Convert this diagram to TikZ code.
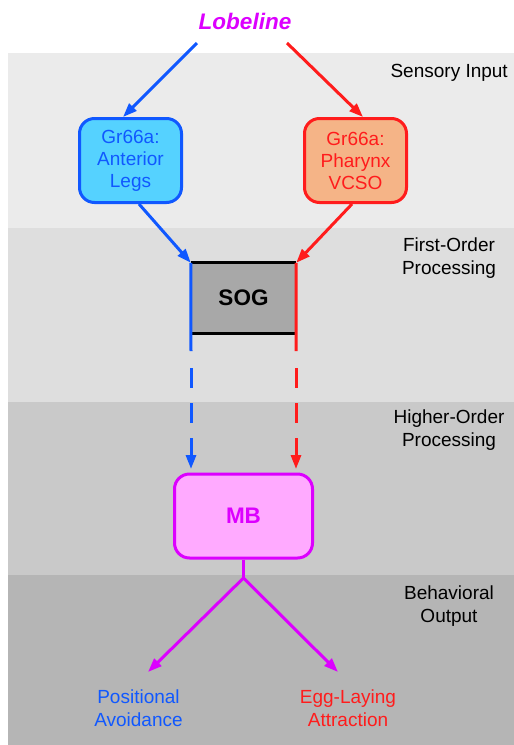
\documentclass[tikz,border=0pt]{standalone}
\usepackage{fontspec}
\setmainfont{Liberation Sans}
\usetikzlibrary{arrows.meta}
\definecolor{cblue}{RGB}{16,88,255}
\definecolor{cred}{RGB}{255,28,28}
\definecolor{cmag}{RGB}{220,0,255}
\definecolor{fcyan}{RGB}{85,210,255}
\definecolor{forange}{RGB}{245,180,135}
\definecolor{fpink}{RGB}{255,170,255}
\definecolor{fgray}{RGB}{168,168,168}
\definecolor{bandA}{RGB}{235,235,235}
\definecolor{bandB}{RGB}{222,222,222}
\definecolor{bandC}{RGB}{201,201,201}
\definecolor{bandD}{RGB}{181,181,181}
\begin{document}
\begin{tikzpicture}[x=1pt,y=-1pt,
  txt/.style={font=\fontsize{19}{23}\selectfont, align=center, inner sep=0pt},
  boxst/.style={rounded corners=15pt, line width=3pt, minimum width=102pt, minimum height=84pt, inner sep=0pt, align=center, font=\fontsize{19}{22}\selectfont},
  conn/.style={line width=3pt},
  tip/.style={conn, -{Triangle[length=14pt,width=10pt]}},
  dashconn/.style={tip, dash pattern=on 20pt off 15pt}]
\useasboundingbox (0,0) rectangle (514,745);
\fill[white] (0,0) rectangle (514,745);
\fill[bandA] (8,53) rectangle (514,228);
\fill[bandB] (8,228) rectangle (514,402);
\fill[bandC] (8,402) rectangle (514,575);
\fill[bandD] (8,575) rectangle (514,745);

% layer labels
\node[txt, anchor=east] (lsens) at (508,73) {Sensory Input};
\node[txt] (lfirst) at (449,258) {First-Order\\Processing};
\node[txt] (lhigh) at (449,430) {Higher-Order\\Processing};
\node[txt] (lbeh) at (449,606) {Behavioral\\Output};

% title
\node[txt, font=\fontsize{22.5}{26}\selectfont\bfseries\itshape, text=cmag] (lob) at (245,21) {Lobeline};

% sensory boxes
\node[boxst, draw=cblue, fill=fcyan, text=cblue] (legs) at (130.5,160.5) {Gr66a:\\Anterior\\Legs};
\node[boxst, draw=cred, fill=forange, text=cred] (phar) at (355.5,160.5) {Gr66a:\\Pharynx\\VCSO};

% SOG
\node[fill=fgray, minimum width=105pt, minimum height=70pt, inner sep=0pt, font=\fontsize{22.5}{26}\selectfont\bfseries] (sog) at (243.5,298) {SOG};
\draw[line width=3pt, black] (sog.north west) -- (sog.north east);
\draw[line width=3pt, black] (sog.south west) -- (sog.south east);

% MB
\node[boxst, draw=cmag, fill=fpink, text=cmag, minimum width=138pt, font=\fontsize{22.5}{26}\selectfont\bfseries] (mb) at (243.5,516) {MB};

% outputs
\node[txt, text=cblue] (avoid) at (138.5,708) {Positional\\Avoidance};
\node[txt, text=cred] (egg) at (348,708) {Egg-Laying\\Attraction};

% coordinates
\coordinate (lobL) at (197,43);
\coordinate (lobR) at (287,43);
\coordinate (legsTop) at (123,117);
\coordinate (pharTop) at (363,117);
\coordinate (legsBot) at (139,204);
\coordinate (pharBot) at (352,204);
\coordinate (sogBL) at (191,351);
\coordinate (sogBR) at (296,351);
\coordinate (dashL) at (191,368);
\coordinate (dashR) at (296,368);
\coordinate (mbL) at (191,469);
\coordinate (mbR) at (296,469);
\coordinate (junc) at (243.5,578);
\coordinate (outL) at (148,672);
\coordinate (outR) at (338,672);

% connectors
\draw[tip, cblue] (lobL) -- (legsTop);
\draw[tip, cred] (lobR) -- (pharTop);
\draw[tip, cblue] (legsBot) -- (sog.north west);
\draw[tip, cred] (pharBot) -- (sog.north east);
\draw[conn, cblue] (sog.north west) -- (sogBL);
\draw[conn, cred] (sog.north east) -- (sogBR);
\draw[dashconn, cblue] (dashL) -- (mbL);
\draw[dashconn, cred] (dashR) -- (mbR);
\draw[conn, cmag] (mb.south) -- (junc);
\draw[tip, cmag] (junc) -- (outL);
\draw[tip, cmag] (junc) -- (outR);
\end{tikzpicture}
\end{document}
